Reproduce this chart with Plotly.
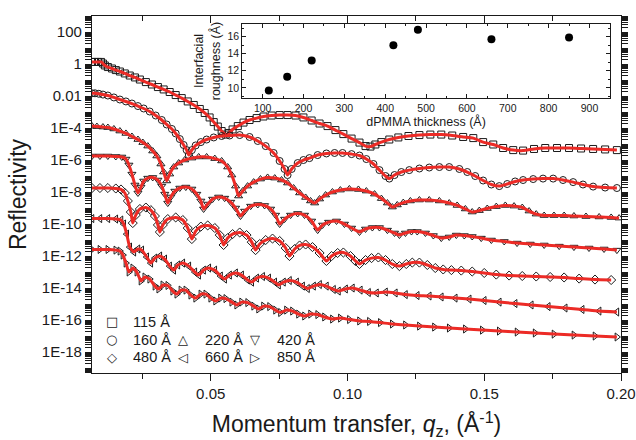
import plotly.graph_objects as go

# ---- main data: q (1/Å) and log10 reflectivity (curves offset by the authors) ----
labels = ["115 Å", "160 Å", "220 Å", "420 Å", "480 Å", "660 Å", "850 Å"]
symbols = ["square-open", "circle-open", "triangle-up-open", "triangle-down-open",
           "diamond-open", "triangle-left-open", "triangle-right-open"]

q_115 = [0.0066, 0.0077, 0.0088, 0.0099, 0.0106, 0.0113, 0.0124, 0.0139, 0.0153, 0.0168, 0.0186,
         0.0204, 0.0223, 0.0241, 0.0263, 0.0285, 0.0307, 0.0328, 0.0350, 0.0372, 0.0394, 0.0416,
         0.0438, 0.0460, 0.0478, 0.0496, 0.0511, 0.0526, 0.0540, 0.0555, 0.0566, 0.0580, 0.0599,
         0.0620, 0.0642, 0.0668, 0.0693, 0.0723, 0.0752, 0.0781, 0.0810, 0.0839, 0.0869, 0.0898,
         0.0927, 0.0956, 0.0985, 0.1015, 0.1044, 0.1066, 0.1084, 0.1102, 0.1124, 0.1153, 0.1186,
         0.1223, 0.1263, 0.1303, 0.1343, 0.1383, 0.1423, 0.1460, 0.1496, 0.1533, 0.1569, 0.1606,
         0.1642, 0.1682, 0.1723, 0.1766, 0.1810, 0.1854, 0.1898, 0.1942, 0.1985]
r_115 = [0.13, 0.13, 0.13, 0.13, 0.03, -0.09, -0.19, -0.28, -0.38, -0.47, -0.59,
         -0.72, -0.84, -0.97, -1.13, -1.28, -1.44, -1.59, -1.75, -1.94, -2.13, -2.34,
         -2.56, -2.81, -3.06, -3.34, -3.63, -3.91, -4.19, -4.41, -4.31, -4.09, -3.88,
         -3.66, -3.50, -3.38, -3.28, -3.22, -3.19, -3.19, -3.22, -3.34, -3.53, -3.72,
         -3.88, -4.13, -4.38, -4.66, -4.91, -5.13, -5.16, -5.03, -4.88, -4.72, -4.59,
         -4.50, -4.44, -4.41, -4.41, -4.47, -4.56, -4.63, -4.88, -5.03, -5.25, -5.38,
         -5.41, -5.31, -5.25, -5.25, -5.25, -5.28, -5.31, -5.34, -5.38]

q_160 = [0.0066, 0.0077, 0.0091, 0.0106, 0.0124, 0.0146, 0.0168, 0.0190, 0.0212, 0.0234, 0.0255,
         0.0277, 0.0299, 0.0321, 0.0339, 0.0358, 0.0372, 0.0387, 0.0401, 0.0412, 0.0420, 0.0431,
         0.0445, 0.0464, 0.0485, 0.0511, 0.0540, 0.0569, 0.0606, 0.0642, 0.0672, 0.0701, 0.0730,
         0.0752, 0.0770, 0.0781, 0.0796, 0.0818, 0.0839, 0.0861, 0.0891, 0.0923, 0.0953, 0.0982,
         0.1015, 0.1044, 0.1069, 0.1095, 0.1117, 0.1139, 0.1153, 0.1172, 0.1197, 0.1226, 0.1263,
         0.1299, 0.1336, 0.1372, 0.1409, 0.1438, 0.1467, 0.1496, 0.1526, 0.1555, 0.1584, 0.1613,
         0.1642, 0.1679, 0.1715, 0.1752, 0.1788, 0.1825, 0.1861, 0.1898, 0.1942, 0.1985]
r_160 = [-1.83, -1.83, -1.86, -1.91, -1.97, -2.09, -2.22, -2.34, -2.47, -2.63, -2.78,
         -2.97, -3.22, -3.50, -3.78, -4.06, -4.34, -4.69, -5.06, -5.38, -5.69, -5.38,
         -5.09, -4.88, -4.72, -4.59, -4.50, -4.47, -4.44, -4.56, -4.81, -5.13, -5.56,
         -6.06, -6.56, -6.94, -6.56, -6.19, -6.00, -5.88, -5.69, -5.59, -5.56, -5.56,
         -5.63, -5.72, -5.94, -6.25, -6.63, -7.00, -7.16, -6.94, -6.75, -6.63, -6.53,
         -6.47, -6.44, -6.44, -6.56, -6.75, -7.00, -7.28, -7.53, -7.63, -7.50, -7.34,
         -7.25, -7.19, -7.16, -7.16, -7.25, -7.38, -7.53, -7.66, -7.72, -7.75]

q_220 = [0.0066, 0.0084, 0.0106, 0.0124, 0.0146, 0.0168, 0.0190, 0.0212, 0.0234, 0.0252, 0.0270,
         0.0288, 0.0303, 0.0318, 0.0328, 0.0339, 0.0350, 0.0365, 0.0383, 0.0405, 0.0431, 0.0456,
         0.0485, 0.0515, 0.0540, 0.0562, 0.0577, 0.0591, 0.0602, 0.0617, 0.0635, 0.0657, 0.0682,
         0.0708, 0.0734, 0.0759, 0.0781, 0.0803, 0.0825, 0.0847, 0.0865, 0.0880, 0.0898, 0.0920,
         0.0945, 0.0974, 0.1007, 0.1040, 0.1069, 0.1099, 0.1124, 0.1146, 0.1164, 0.1182, 0.1204,
         0.1230, 0.1263, 0.1299, 0.1336, 0.1372, 0.1401, 0.1431, 0.1456, 0.1482, 0.1511, 0.1544,
         0.1577, 0.1609, 0.1639, 0.1664, 0.1690, 0.1719, 0.1755, 0.1792, 0.1828, 0.1872, 0.1920,
         0.1964, 0.1993]
r_220 = [-3.88, -3.91, -3.94, -3.97, -4.06, -4.19, -4.34, -4.53, -4.72, -4.91, -5.13,
         -5.44, -5.75, -6.25, -6.75, -7.31, -6.88, -6.44, -6.19, -6.00, -5.88, -5.81,
         -5.81, -5.91, -6.06, -6.44, -6.94, -7.63, -8.25, -7.94, -7.63, -7.38, -7.19,
         -7.09, -7.13, -7.25, -7.44, -7.75, -8.06, -8.34, -8.56, -8.69, -8.44, -8.19,
         -8.00, -7.88, -7.81, -7.84, -7.94, -8.13, -8.41, -8.69, -8.94, -8.81, -8.66,
         -8.56, -8.50, -8.50, -8.56, -8.69, -8.84, -9.06, -9.25, -9.16, -9.03, -8.91,
         -8.84, -8.88, -8.97, -9.19, -9.38, -9.47, -9.47, -9.47, -9.50, -9.53, -9.56,
         -9.59, -9.63]

q_420 = [0.0066, 0.0095, 0.0124, 0.0153, 0.0175, 0.0190, 0.0201, 0.0212, 0.0223, 0.0234, 0.0245,
         0.0255, 0.0270, 0.0288, 0.0307, 0.0321, 0.0332, 0.0343, 0.0354, 0.0369, 0.0387, 0.0409,
         0.0431, 0.0449, 0.0464, 0.0474, 0.0489, 0.0507, 0.0529, 0.0551, 0.0573, 0.0591, 0.0609,
         0.0624, 0.0646, 0.0672, 0.0697, 0.0719, 0.0737, 0.0752, 0.0770, 0.0792, 0.0818, 0.0843,
         0.0869, 0.0891, 0.0909, 0.0931, 0.0960, 0.0989, 0.1015, 0.1044, 0.1066, 0.1091, 0.1117,
         0.1146, 0.1172, 0.1190, 0.1212, 0.1234, 0.1255, 0.1285, 0.1314, 0.1343, 0.1372, 0.1398,
         0.1427, 0.1456, 0.1489, 0.1526, 0.1573, 0.1620, 0.1668, 0.1719, 0.1774, 0.1828, 0.1883,
         0.1938, 0.1985]
r_420 = [-5.75, -5.75, -5.75, -5.78, -5.81, -5.94, -6.31, -6.88, -7.56, -8.06, -7.69,
         -7.31, -7.13, -7.09, -7.25, -7.63, -8.13, -8.69, -8.31, -7.94, -7.75, -7.69,
         -7.81, -8.13, -8.56, -9.06, -8.75, -8.44, -8.31, -8.38, -8.63, -9.00, -9.50,
         -9.19, -8.88, -8.78, -8.84, -9.06, -9.44, -10.00, -9.69, -9.44, -9.34, -9.44,
         -9.81, -10.38, -10.06, -9.88, -9.81, -10.00, -10.25, -10.50, -10.31, -10.22, -10.22,
         -10.38, -10.56, -10.69, -10.56, -10.47, -10.47, -10.56, -10.72, -10.88, -10.81, -10.69,
         -10.72, -10.78, -10.88, -11.00, -11.09, -11.19, -11.25, -11.31, -11.38, -11.44, -11.50,
         -11.56, -11.63]

q_480 = [0.0066, 0.0095, 0.0124, 0.0153, 0.0172, 0.0186, 0.0197, 0.0208, 0.0215, 0.0226, 0.0241,
         0.0263, 0.0281, 0.0296, 0.0307, 0.0314, 0.0325, 0.0343, 0.0372, 0.0398, 0.0416, 0.0431,
         0.0445, 0.0464, 0.0489, 0.0515, 0.0533, 0.0547, 0.0562, 0.0580, 0.0606, 0.0631, 0.0650,
         0.0664, 0.0679, 0.0701, 0.0726, 0.0752, 0.0774, 0.0788, 0.0807, 0.0825, 0.0847, 0.0872,
         0.0898, 0.0923, 0.0942, 0.0964, 0.0985, 0.1011, 0.1029, 0.1044, 0.1066, 0.1088, 0.1113,
         0.1139, 0.1164, 0.1190, 0.1215, 0.1237, 0.1263, 0.1292, 0.1321, 0.1350, 0.1380, 0.1416,
         0.1456, 0.1500, 0.1544, 0.1591, 0.1639, 0.1690, 0.1741, 0.1792, 0.1847, 0.1905, 0.1964]
r_480 = [-7.75, -7.75, -7.75, -7.78, -7.84, -8.06, -8.56, -9.25, -9.94, -9.44, -9.06,
         -8.97, -9.13, -9.50, -10.06, -10.50, -10.06, -9.69, -9.59, -9.75, -10.25, -10.94,
         -10.44, -10.16, -10.09, -10.25, -10.69, -11.31, -10.88, -10.63, -10.53, -10.69, -11.13,
         -11.63, -11.25, -11.00, -10.91, -11.06, -11.50, -12.00, -11.56, -11.34, -11.28, -11.44,
         -11.81, -12.31, -12.00, -11.81, -11.78, -12.00, -12.31, -12.50, -12.25, -12.13, -12.09,
         -12.25, -12.50, -12.63, -12.50, -12.41, -12.41, -12.56, -12.75, -12.84, -12.88, -12.91,
         -12.97, -13.06, -13.16, -13.22, -13.25, -13.28, -13.31, -13.34, -13.41, -13.47, -13.50]

q_660 = [0.0066, 0.0095, 0.0124, 0.0153, 0.0172, 0.0182, 0.0193, 0.0204, 0.0219, 0.0234, 0.0248,
         0.0266, 0.0281, 0.0296, 0.0314, 0.0332, 0.0350, 0.0365, 0.0380, 0.0398, 0.0420, 0.0442,
         0.0456, 0.0474, 0.0493, 0.0515, 0.0536, 0.0551, 0.0569, 0.0591, 0.0613, 0.0635, 0.0650,
         0.0668, 0.0690, 0.0712, 0.0734, 0.0748, 0.0766, 0.0788, 0.0814, 0.0836, 0.0854, 0.0876,
         0.0898, 0.0923, 0.0949, 0.0967, 0.0993, 0.1018, 0.1047, 0.1077, 0.1106, 0.1139, 0.1175,
         0.1212, 0.1255, 0.1299, 0.1343, 0.1394, 0.1445, 0.1500, 0.1555, 0.1613, 0.1672, 0.1734,
         0.1796, 0.1858, 0.1920, 0.1985]
r_660 = [-9.66, -9.66, -9.66, -9.69, -9.75, -10.00, -10.63, -11.44, -11.75, -11.56, -11.63,
         -12.06, -12.44, -12.13, -12.00, -12.19, -12.63, -12.88, -12.56, -12.44, -12.63, -13.00,
         -13.19, -12.88, -12.75, -12.88, -13.25, -13.44, -13.19, -13.06, -13.19, -13.50, -13.63,
         -13.38, -13.28, -13.38, -13.63, -13.81, -13.63, -13.53, -13.63, -13.88, -14.03, -13.88,
         -13.78, -13.88, -14.09, -14.19, -14.06, -14.00, -14.13, -14.28, -14.31, -14.25, -14.31,
         -14.41, -14.47, -14.50, -14.56, -14.63, -14.69, -14.78, -14.88, -14.97, -15.06, -15.16,
         -15.25, -15.34, -15.44, -15.50]

q_850 = [0.0066, 0.0095, 0.0124, 0.0153, 0.0168, 0.0179, 0.0190, 0.0201, 0.0215, 0.0230, 0.0245,
         0.0259, 0.0277, 0.0296, 0.0310, 0.0325, 0.0343, 0.0361, 0.0376, 0.0391, 0.0409, 0.0427,
         0.0445, 0.0464, 0.0482, 0.0500, 0.0518, 0.0536, 0.0555, 0.0577, 0.0595, 0.0613, 0.0635,
         0.0657, 0.0675, 0.0693, 0.0715, 0.0737, 0.0755, 0.0777, 0.0799, 0.0821, 0.0843, 0.0865,
         0.0891, 0.0916, 0.0945, 0.0974, 0.1007, 0.1044, 0.1080, 0.1120, 0.1164, 0.1212, 0.1263,
         0.1318, 0.1372, 0.1431, 0.1493, 0.1555, 0.1620, 0.1686, 0.1755, 0.1828, 0.1905, 0.1985]
r_850 = [-11.59, -11.59, -11.59, -11.63, -11.69, -11.94, -12.44, -13.00, -12.75, -13.00, -13.56,
         -13.31, -13.44, -13.88, -14.06, -13.81, -13.84, -14.19, -14.38, -14.13, -14.13, -14.44,
         -14.63, -14.38, -14.38, -14.63, -14.81, -14.63, -14.66, -14.88, -15.06, -14.88, -14.91,
         -15.13, -15.31, -15.13, -15.16, -15.38, -15.53, -15.38, -15.44, -15.63, -15.75, -15.63,
         -15.66, -15.81, -15.94, -15.88, -15.97, -16.06, -16.09, -16.16, -16.25, -16.31, -16.38,
         -16.44, -16.50, -16.56, -16.63, -16.69, -16.75, -16.81, -16.88, -16.94, -17.00, -17.06]

q_sets = [q_115, q_160, q_220, q_420, q_480, q_660, q_850]
r_sets = [r_115, r_160, r_220, r_420, r_480, r_660, r_850]

# ---- inset data ----
thickness = [115, 160, 220, 420, 480, 660, 850]
roughness = [9.7, 11.3, 13.2, 15.0, 16.8, 15.7, 15.9]

# ---- ticks ----
y_tickvals = [1e2, 1e0, 1e-2, 1e-4, 1e-6, 1e-8, 1e-10, 1e-12, 1e-14, 1e-16, 1e-18]
y_ticktext = ["100", "1", "0.01", "1E-4", "1E-6", "1E-8", "1E-10", "1E-12", "1E-14", "1E-16", "1E-18"]
x_tickvals = [0.05, 0.10, 0.15, 0.20]
x_ticktext = ["0.05", "0.10", "0.15", "0.20"]

FONT = "Liberation Sans, Arial, sans-serif"
INK = "#1a1a1a"
RED = "#ec2b26"

fig = go.Figure()
for q, r, lab, sym in zip(q_sets, r_sets, labels, symbols):
    R = [10 ** v for v in r]
    fig.add_trace(go.Scatter(x=q, y=R, mode="markers", name=lab, showlegend=False,
                             marker=dict(symbol=sym, size=7, color=INK, line=dict(width=1, color=INK)),
                             xaxis="x", yaxis="y"))
    fig.add_trace(go.Scatter(x=q, y=R, mode="lines", showlegend=False,
                             line=dict(color=RED, width=3, shape="spline", smoothing=0.5),
                             xaxis="x", yaxis="y"))

fig.add_trace(go.Scatter(x=thickness, y=roughness, mode="markers", showlegend=False,
                         marker=dict(symbol="circle", size=8, color="black"),
                         xaxis="x2", yaxis="y2"))
# carrier for the top (inward-tick) copy of the q axis
fig.add_trace(go.Scatter(x=[x_tickvals[0]], y=[y_tickvals[1]], mode="none", showlegend=False,
                         hoverinfo="skip", xaxis="x3", yaxis="y"))

minor_y = [m * 10.0 ** e for e in range(-20, 3) for m in range(2, 10)] + \
          [10.0 ** e for e in range(-19, 3, 2)]

fig.update_layout(
    width=636, height=440,
    margin=dict(l=92, r=15, t=16, b=67, autoexpand=False),
    paper_bgcolor="white", plot_bgcolor="white",
    font=dict(family=FONT, color=INK, size=14),
    xaxis=dict(range=[0.0066, 0.2], tickvals=x_tickvals, ticktext=x_ticktext, automargin=False,
               ticks="outside", ticklen=7, tickwidth=1, tickcolor=INK,
               minor=dict(dtick=0.025, ticks="outside", ticklen=5, tickcolor=INK),
               showline=True, linecolor=INK, linewidth=1.2, mirror=True,
               showgrid=False, zeroline=False, tickfont=dict(size=15),
               title=dict(text="Momentum transfer, <i>q</i><sub>z</sub>, (Å<sup>-1</sup>)",
                          font=dict(size=23), standoff=20)),
    xaxis3=dict(overlaying="x", side="top", range=[0.0066, 0.2], tickvals=x_tickvals,
                showticklabels=False, ticks="inside", ticklen=7, tickcolor=INK, automargin=False,
                minor=dict(dtick=0.025, ticks="inside", ticklen=5, tickcolor=INK),
                showline=False, showgrid=False, zeroline=False),
    yaxis=dict(type="log", range=[-19.31, 3], tickvals=y_tickvals, ticktext=y_ticktext,
               automargin=False,
               ticks="outside", ticklen=6, tickwidth=1, tickcolor=INK,
               minor=dict(tickvals=minor_y, ticks="outside", ticklen=3, tickcolor=INK),
               showline=True, linecolor=INK, linewidth=1.2, mirror="allticks",
               showgrid=False, zeroline=False, tickfont=dict(size=15),
               title=dict(text="Reflectivity", font=dict(size=23), standoff=8)),
    xaxis2=dict(domain=[0.284, 0.979], anchor="y2", range=[50, 950], automargin=False,
                dtick=100, ticks="inside", ticklen=4, tickcolor=INK,
                minor=dict(dtick=50, ticks="inside", ticklen=2, tickcolor=INK),
                showline=True, linecolor=INK, linewidth=1, mirror="allticks",
                showgrid=False, zeroline=False, tickfont=dict(size=10.5),
                title=dict(text="dPMMA thickness (Å)", font=dict(size=12.5), standoff=3)),
    yaxis2=dict(domain=[0.770, 0.978], anchor="x2", range=[8.8, 17.5], automargin=False,
                tickvals=[10, 12, 14, 16], ticks="inside", ticklen=4, tickcolor=INK,
                minor=dict(dtick=1, ticks="inside", ticklen=2, tickcolor=INK),
                showline=True, linecolor=INK, linewidth=1, mirror="allticks",
                showgrid=False, zeroline=False, tickfont=dict(size=10.5),
                title=dict(text="Interfacial<br>roughness (Å)", font=dict(size=12.5), standoff=4)),
    showlegend=False,
)

# legend drawn as text rows (symbol + label)
leg_sym = ["□", "○", "△", "▽", "◇", "◁", "▷"]
leg_pos = [(0, 0), (1, 0), (1, 1), (1, 2), (2, 0), (2, 1), (2, 2)]
for s, lab, (row, col) in zip(leg_sym, labels, leg_pos):
    x0 = 0.037 + col * 0.1355
    y0 = 0.143 - row * 0.0495
    fig.add_annotation(xref="paper", yref="paper", x=x0, y=y0, text=s, showarrow=False,
                       xanchor="center", yanchor="middle",
                       font=dict(family="DejaVu Sans", size=13, color=INK))
    fig.add_annotation(xref="paper", yref="paper", x=x0 + 0.037, y=y0, text=lab, showarrow=False,
                       xanchor="left", yanchor="middle", font=dict(size=14.5, color=INK))

fig.write_html("out.html", config={"displayModeBar": False},
               post_script="document.body.style.margin='0';")
